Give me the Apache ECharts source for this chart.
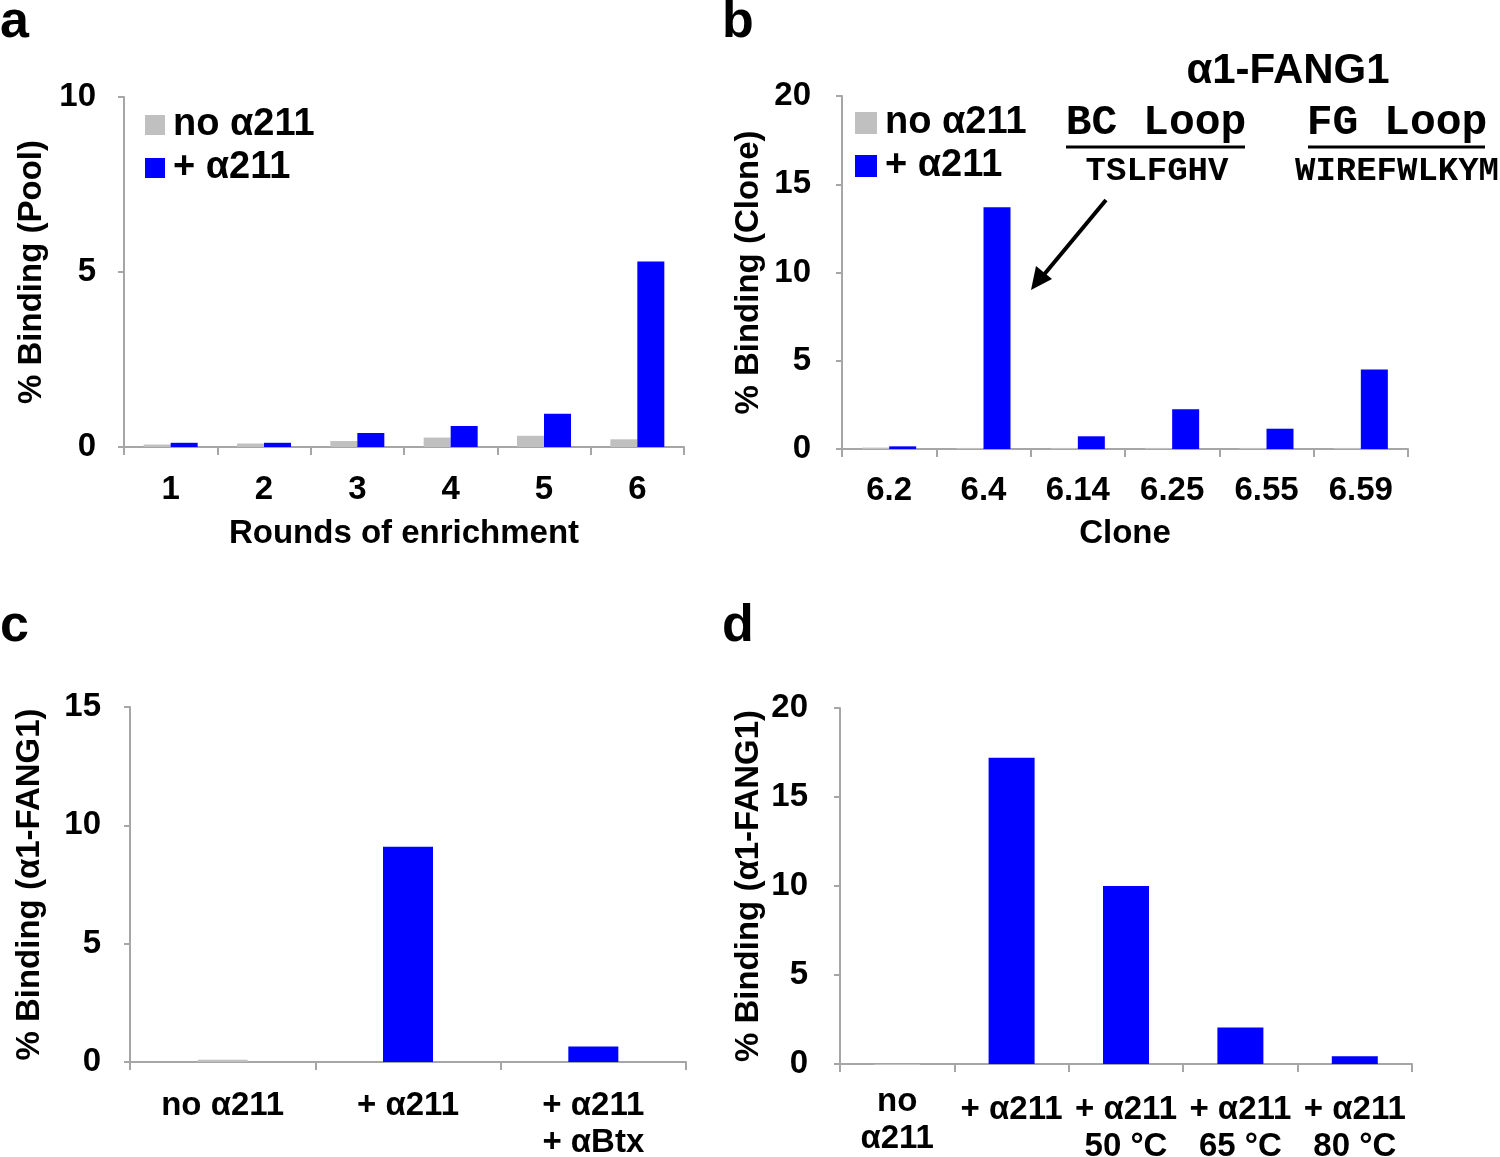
<!DOCTYPE html>
<html><head><meta charset="utf-8">
<script src="https://cdn.jsdelivr.net/npm/echarts@6/dist/echarts.min.js"></script>
<style>html,body{margin:0;padding:0;background:#fff}#c{width:1500px;height:1157px}</style>
</head><body><div id="c"></div>
<script>
const roundsCats = ['1','2','3','4','5','6'];
const poolNo = [0.07, 0.1, 0.17, 0.27, 0.32, 0.22];
const poolPlus = [0.12, 0.12, 0.4, 0.6, 0.95, 5.3];
const cloneCats = ['6.2','6.4','6.14','6.25','6.55','6.59'];
const cloneNo = [0.08, 0.06, 0.06, 0.06, 0.06, 0.06];
const clonePlus = [0.15, 13.7, 0.72, 2.25, 1.15, 4.5];
const cCats = ['no α211','+ α211','+ α211\n+ αBtx'];
const cVals = [0.09, 9.1, 0.65];
const dCats = ['no\nα211','+ α211','+ α211\n50 °C','+ α211\n65 °C','+ α211\n80 °C'];
const dVals = [-0.05, 17.2, 10.0, 2.05, 0.43];
const seriesNames = ['no α211', '+ α211'];

const FONT = "'Liberation Sans', Arial, sans-serif";
const MONO = "'Liberation Mono', 'Courier New', monospace";
const GREY = '#c0c0c0', BLUE = '#0000ff', AX = '#a6a6a6';
const FS = 33;

function xAx(idx, cats, name, gap, margin) {
  return {
    type: 'category', gridIndex: idx, data: cats,
    axisLine: {lineStyle: {color: AX, width: 2}},
    axisTick: {show: true, length: 8, lineStyle: {color: AX, width: 2}},
    axisLabel: {color: '#000', fontFamily: FONT, fontWeight: 'bold', fontSize: FS, margin: margin, interval: 0, lineHeight: 37, hideOverlap: false},
    name: name, nameLocation: 'middle', nameGap: gap,
    nameTextStyle: {color: '#000', fontFamily: FONT, fontWeight: 'bold', fontSize: FS}
  };
}
function yAx(idx, max, name, gap, margin) {
  return {
    type: 'value', gridIndex: idx, min: 0, max: max, interval: 5,
    splitLine: {show: false},
    axisLine: {show: true, lineStyle: {color: AX, width: 2}},
    axisTick: {show: true, length: 6, lineStyle: {color: AX, width: 2}},
    axisLabel: {color: '#000', fontFamily: FONT, fontWeight: 'bold', fontSize: FS, margin: margin},
    name: name, nameLocation: 'middle', nameGap: gap, nameRotate: 90,
    nameTextStyle: {color: '#000', fontFamily: FONT, fontWeight: 'bold', fontSize: FS}
  };
}
const firstGrey = p => p.dataIndex === 0 ? GREY : BLUE;
// the two-line "no α211" label in panel d sits a bit higher in the reference
const dCatItems = dCats.map((c, i) => i === 0 ? {value: c, textStyle: {padding: [-8, 0, 0, 0]}} : c);
const legendText = {color: '#000', fontFamily: FONT, fontWeight: 'bold', fontSize: 38, padding: [0, 0, 0, 3]};

const chart = echarts.init(document.getElementById('c'), null, {renderer: 'canvas'});
chart.setOption({
  animation: false,
  backgroundColor: '#fff',
  grid: [
    {left: 124, top: 97, width: 560, height: 350, outerBoundsMode: 'none', containLabel: false},
    {left: 842, top: 96, width: 566, height: 353, outerBoundsMode: 'none', containLabel: false},
    {left: 130, top: 707, width: 556, height: 355, outerBoundsMode: 'none', containLabel: false},
    {left: 840, top: 708, width: 572, height: 356, outerBoundsMode: 'none', containLabel: false}
  ],
  xAxis: [
    xAx(0, roundsCats, 'Rounds of enrichment', 70, 24),
    xAx(1, cloneCats, 'Clone', 68, 23),
    xAx(2, cCats, '', 0, 25),
    xAx(3, dCatItems, '', 0, 27)
  ],
  yAxis: [
    yAx(0, 10, '% Binding (Pool)', 76, 28),
    yAx(1, 20, '% Binding (Clone)', 77, 31),
    yAx(2, 15, '% Binding (α1-FANG1)', 84, 29),
    yAx(3, 20, '% Binding (α1-FANG1)', 75, 32)
  ],
  legend: [
    {left: 140, top: 101, orient: 'vertical', itemWidth: 20, itemHeight: 20, itemGap: 5,
     data: seriesNames, icon: 'rect', textStyle: legendText},
    {left: 850, top: 99, orient: 'vertical', itemWidth: 22, itemHeight: 22, itemGap: 5,
     data: seriesNames, icon: 'rect', textStyle: legendText}
  ],
  series: [
    {name: seriesNames[0], type: 'bar', xAxisIndex: 0, yAxisIndex: 0, data: poolNo, barWidth: 27, barGap: '0%', itemStyle: {color: GREY}},
    {name: seriesNames[1], type: 'bar', xAxisIndex: 0, yAxisIndex: 0, data: poolPlus, barWidth: 27, barGap: '0%', itemStyle: {color: BLUE}},
    {name: seriesNames[0], type: 'bar', xAxisIndex: 1, yAxisIndex: 1, data: cloneNo, barWidth: 27, barGap: '0%', itemStyle: {color: GREY}},
    {name: seriesNames[1], type: 'bar', xAxisIndex: 1, yAxisIndex: 1, data: clonePlus, barWidth: 27, barGap: '0%', itemStyle: {color: BLUE}},
    {type: 'bar', xAxisIndex: 2, yAxisIndex: 2, data: cVals, barWidth: 50, itemStyle: {color: firstGrey}},
    {type: 'bar', xAxisIndex: 3, yAxisIndex: 3, data: dVals, barWidth: 46, clip: false, itemStyle: {color: firstGrey}}
  ],
  graphic: [
    {type: 'text', left: 0, top: -3, style: {text: 'a', font: 'bold 52px ' + FONT, fill: '#000'}},
    {type: 'text', left: 722, top: -3, style: {text: 'b', font: 'bold 52px ' + FONT, fill: '#000'}},
    {type: 'text', left: 0, top: 601, style: {text: 'c', font: 'bold 52px ' + FONT, fill: '#000'}},
    {type: 'text', left: 722, top: 601, style: {text: 'd', font: 'bold 52px ' + FONT, fill: '#000'}},
    {type: 'text', x: 1288, y: 71, style: {text: 'α1-FANG1', font: 'bold 42px ' + FONT, fill: '#000', align: 'center', verticalAlign: 'middle'}},
    {type: 'text', x: 1156, y: 123, style: {text: 'BC Loop', font: 'bold 43px ' + MONO, fill: '#000', align: 'center', verticalAlign: 'middle'}},
    {type: 'text', x: 1397, y: 123, style: {text: 'FG Loop', font: 'bold 43px ' + MONO, fill: '#000', align: 'center', verticalAlign: 'middle'}},
    {type: 'line', shape: {x1: 1066, y1: 147, x2: 1245, y2: 147}, style: {stroke: '#000', lineWidth: 3}},
    {type: 'line', shape: {x1: 1308, y1: 147, x2: 1485, y2: 147}, style: {stroke: '#000', lineWidth: 3}},
    {type: 'text', x: 1157, y: 171, style: {text: 'TSLFGHV', font: 'bold 34px ' + MONO, fill: '#000', align: 'center', verticalAlign: 'middle'}},
    {type: 'text', x: 1397, y: 171, style: {text: 'WIREFWLKYM', font: 'bold 34px ' + MONO, fill: '#000', align: 'center', verticalAlign: 'middle'}},
    {type: 'line', shape: {x1: 1106, y1: 200, x2: 1042, y2: 277}, style: {stroke: '#000', lineWidth: 4}},
    {type: 'polygon', shape: {points: [[1031, 290], [1036, 266], [1052, 279]]}, style: {fill: '#000'}}
  ]
});
</script></body></html>
